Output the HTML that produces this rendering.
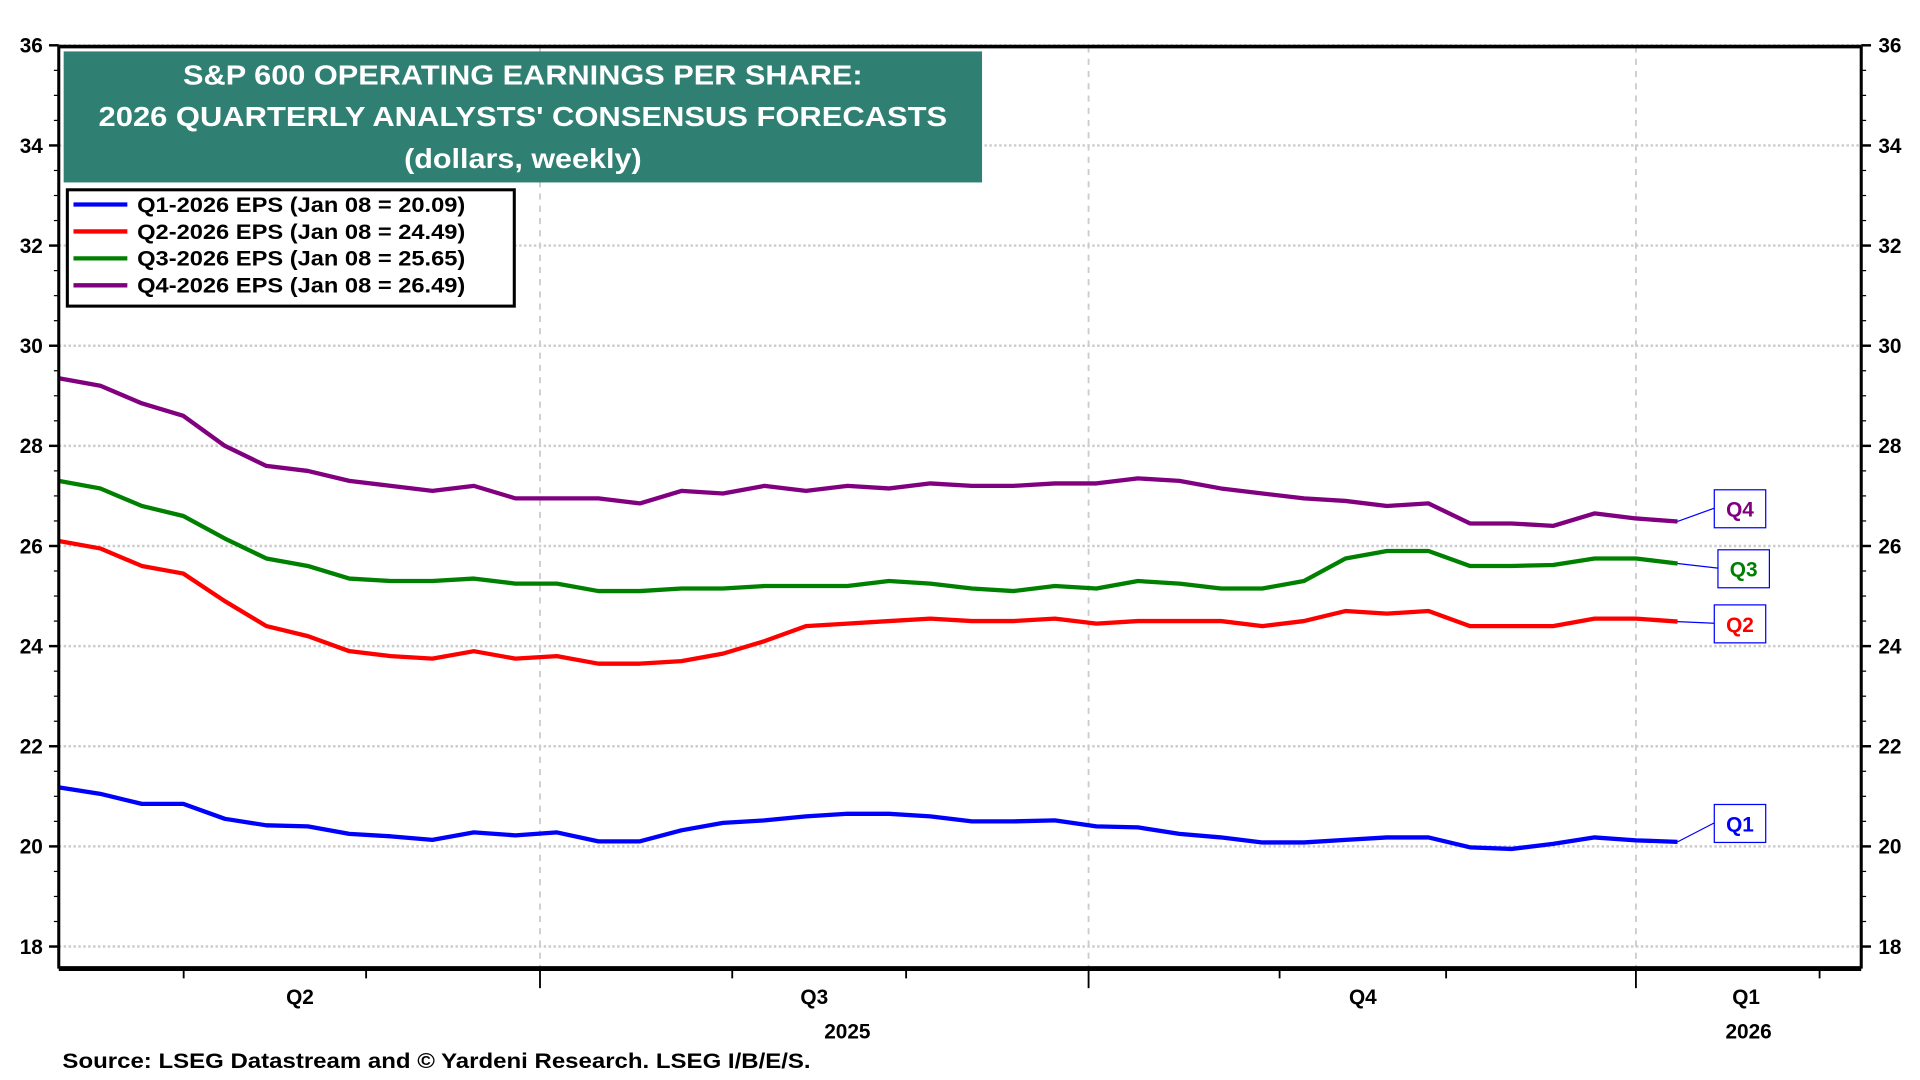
<!DOCTYPE html>
<html><head><meta charset="utf-8"><title>S&amp;P 600 EPS forecasts</title>
<style>html,body{margin:0;padding:0;background:#fff}svg{display:block}text{font-family:"Liberation Sans Narrow","Liberation Sans",sans-serif;font-weight:bold}</style>
</head><body>
<svg id="chart" width="1920" height="1080" viewBox="0 0 1568 882" xmlns="http://www.w3.org/2000/svg">
<g id="grid"></g>
<g id="series"></g>
<g id="axes"></g>
<g>
<rect x="52" y="42" width="750" height="107" fill="#2f7f72"/>
<text x="427" y="69" text-anchor="middle" fill="#fff" font-size="23" textLength="555" lengthAdjust="spacingAndGlyphs">S&amp;P 600 OPERATING EARNINGS PER SHARE:</text>
<text x="427" y="103" text-anchor="middle" fill="#fff" font-size="23" textLength="693" lengthAdjust="spacingAndGlyphs">2026 QUARTERLY ANALYSTS' CONSENSUS FORECASTS</text>
<text x="427" y="137" text-anchor="middle" fill="#fff" font-size="23" textLength="194" lengthAdjust="spacingAndGlyphs">(dollars, weekly)</text>
</g>
<g id="legend">
<rect x="55" y="155" width="365" height="95" fill="#fff" stroke="#000" stroke-width="2.5"/>
</g>
<text x="51" y="872" font-size="17" textLength="611" lengthAdjust="spacingAndGlyphs">Source: LSEG Datastream and © Yardeni Research. LSEG I/B/E/S.</text>
</svg>
<script>
const seriesNames = ['Q1','Q2','Q3','Q4'];
const legendLabels = ['Q1-2026 EPS (Jan 08 = 20.09)','Q2-2026 EPS (Jan 08 = 24.49)','Q3-2026 EPS (Jan 08 = 25.65)','Q4-2026 EPS (Jan 08 = 26.49)'];
const q1 = [21.18,21.05,20.85,20.85,20.55,20.42,20.4,20.25,20.2,20.13,20.28,20.22,20.28,20.1,20.1,20.32,20.47,20.52,20.6,20.65,20.65,20.6,20.5,20.5,20.52,20.4,20.38,20.25,20.18,20.08,20.08,20.13,20.18,20.18,19.98,19.95,20.05,20.18,20.12,20.09];
const q2 = [26.1,25.95,25.6,25.45,24.9,24.4,24.2,23.9,23.8,23.75,23.9,23.75,23.8,23.65,23.65,23.7,23.85,24.1,24.4,24.45,24.5,24.55,24.5,24.5,24.55,24.45,24.5,24.5,24.5,24.4,24.5,24.7,24.65,24.7,24.4,24.4,24.4,24.55,24.55,24.49];
const q3 = [27.3,27.15,26.8,26.6,26.15,25.75,25.6,25.35,25.3,25.3,25.35,25.25,25.25,25.1,25.1,25.15,25.15,25.2,25.2,25.2,25.3,25.25,25.15,25.1,25.2,25.15,25.3,25.25,25.15,25.15,25.3,25.75,25.9,25.9,25.6,25.6,25.62,25.75,25.75,25.65];
const q4 = [29.35,29.2,28.85,28.6,28.0,27.6,27.5,27.3,27.2,27.1,27.2,26.95,26.95,26.95,26.85,27.1,27.05,27.2,27.1,27.2,27.15,27.25,27.2,27.2,27.25,27.25,27.35,27.3,27.15,27.05,26.95,26.9,26.8,26.85,26.45,26.45,26.4,26.65,26.55,26.49];
const yTicks = [18,20,22,24,26,28,30,32,34,36];
const quarterLabels = ['Q2','Q3','Q4','Q1'];
const yearLabels = ['2025','2026'];

const NS='http://www.w3.org/2000/svg';
const L=48,R=1520,T=38,B=791;
const Y0=18,Y1=36,yTop=37,yBot=773;
function y(v){return yBot-(v-Y0)*(yBot-yTop)/(Y1-Y0);}
function x(i,n){return 48+i*(1370-48)/(n-1);}
function mk(tag,attrs,parent){const e=document.createElementNS(NS,tag);for(const k in attrs)e.setAttribute(k,attrs[k]);parent.appendChild(e);return e;}
const grid=document.getElementById('grid'),axes=document.getElementById('axes'),ser=document.getElementById('series'),leg=document.getElementById('legend');

yTicks.forEach(v=>{
  const g=mk('line',{x1:L,x2:R,y1:y(v),y2:y(v),stroke:'#ccc','stroke-width':2,'stroke-dasharray':'2,2'},grid);
  
  
  [[22,'end'],[1533,'start']].forEach(([tx,a])=>{
    const t=mk('text',{x:a==='end'?35:1534,y:y(v)+6,'font-size':17,'text-anchor':a},axes);
    t.textContent=v;
    
    
  });
  mk('line',{x1:40,x2:L,y1:y(v),y2:y(v),stroke:'#000','stroke-width':2},axes);
  mk('line',{x1:R,x2:R+8,y1:y(v),y2:y(v),stroke:'#000','stroke-width':2},axes);
});
for(let v=Y0-0.5;v<=Y1;v+=0.5){
  if(v%2===0||y(v)>B)continue;
  mk('line',{x1:44,x2:L,y1:y(v),y2:y(v),stroke:'#000','stroke-width':1},axes);
  mk('line',{x1:R,x2:R+4,y1:y(v),y2:y(v),stroke:'#000','stroke-width':1},axes);
}
const qx=[441,889,1336];
qx.forEach(q=>{
  const g=mk('line',{x1:q,x2:q,y1:T,y2:B,stroke:'#ccc','stroke-width':1.5,'stroke-dasharray':'5,5'},grid);
  
  
  mk('line',{x1:q,x2:q,y1:B,y2:B+16,stroke:'#000','stroke-width':1.5},axes);
});
[150,299,598,740,1045,1181,1486].forEach(m=>mk('line',{x1:m,x2:m,y1:B,y2:B+8,stroke:'#000','stroke-width':1.5},axes));
[245,665,1113,1426].forEach((px,i)=>{
  const t=mk('text',{x:px,y:820,'font-size':17,'text-anchor':'middle'},axes);
  t.textContent=quarterLabels[i];
  
  
});
[692,1428].forEach((px,i)=>{
  const t=mk('text',{x:px,y:848,'font-size':17,'text-anchor':'middle'},axes);
  t.textContent=yearLabels[i];
  
  
});
mk('line',{x1:L,x2:R,y1:T,y2:T,stroke:'#000','stroke-width':3},axes);
mk('line',{x1:L,x2:R,y1:B,y2:B,stroke:'#000','stroke-width':4},axes);
mk('line',{x1:L,x2:L,y1:T,y2:B,stroke:'#000','stroke-width':2.5},axes);
mk('line',{x1:R,x2:R,y1:T,y2:B,stroke:'#000','stroke-width':2.5},axes);

const data=[q1,q2,q3,q4];
const colors=['#0000ff','#ff0000','#008000','#800080'];
const textColors=['#0000ff','#ff0000','#008000','#800080'];
const boxPos=[[1400,657],[1400,494],[1403,449],[1400,400]];
data.forEach((d,k)=>{
  const pts=d.map((v,i)=>x(i,d.length).toFixed(1)+','+y(v).toFixed(1)).join(' ');
  const p=mk('polyline',{points:pts,fill:'none',stroke:colors[k],'stroke-width':3.5,'stroke-linejoin':'round'},ser);
  
  
  const ex=x(d.length-1,d.length),ey=y(d[d.length-1]);
  const [bx,by]=boxPos[k];
  mk('line',{x1:ex,y1:ey,x2:bx,y2:by+15,stroke:'#0000ff','stroke-width':1},ser);
  const r=mk('rect',{x:bx,y:by,width:42,height:31,fill:'#fff',stroke:'#0000ff','stroke-width':1},ser);
  
  
  const t=mk('text',{x:bx+21,y:by+22,'font-size':17,'text-anchor':'middle',fill:textColors[k]},ser);
  t.textContent=seriesNames[k];
  
  
  const ly=167+k*22;
  mk('line',{x1:60,x2:104,y1:ly,y2:ly,stroke:colors[k],'stroke-width':3.5},leg);
  const lt=mk('text',{x:112,y:ly+6,'font-size':17,textLength:268,lengthAdjust:'spacingAndGlyphs'},leg);
  lt.textContent=legendLabels[k];
  
  
});
</script>
</body></html>
